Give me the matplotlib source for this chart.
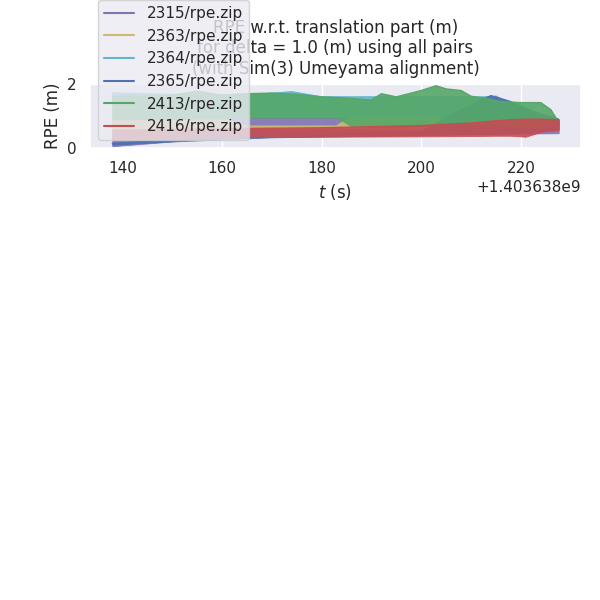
import matplotlib
matplotlib.use("Agg")
import matplotlib.pyplot as plt
import seaborn as sns
import numpy as np

sns.set_theme(style="darkgrid")
plt.rcParams['font.family'] = ['DejaVu Sans']

T0 = 1403638000.0

names = ["2315/rpe.zip", "2363/rpe.zip", "2364/rpe.zip", "2365/rpe.zip", "2413/rpe.zip", "2416/rpe.zip"]
colors = ["#8172B2", "#CCB974", "#64B5CD", "#4C72B0", "#55A868", "#C44E52"]

# envelopes (relative time in s, lower / upper RPE in m)
t_2315 = [138, 150, 165, 183, 200, 215, 222, 227.6]
lo_2315 = [0.05, 0.2, 0.4, 0.42, 0.42, 0.44, 0.45, 0.46]
hi_2315 = [0.9, 0.92, 0.94, 0.94, 1.2, 1.62, 1.0, 0.58]

t_2363 = [138, 150, 165, 183, 190, 215, 227.6]
lo_2363 = [0.55, 0.6, 0.62, 0.62, 0.6, 0.6, 0.62]
hi_2363 = [1.5, 1.4, 0.68, 0.68, 1.4, 1.6, 0.8]

t_2364 = [138, 150, 165, 174, 180, 200, 215, 227.6]
lo_2364 = [1.0, 1.0, 1.0, 1.0, 1.0, 1.0, 0.9, 0.7]
hi_2364 = [1.72, 1.68, 1.65, 1.76, 1.6, 1.6, 1.6, 0.85]

t_2365 = [138, 150, 170, 200, 208, 214, 218, 222, 227.6]
lo_2365 = [0.1, 0.2, 0.33, 0.4, 0.42, 0.44, 0.46, 0.5, 0.6]
hi_2365 = [0.14, 0.25, 0.38, 0.5, 1.2, 1.64, 1.45, 1.15, 0.9]

t_2413 = [138, 145, 150, 155, 160, 165, 170, 175, 180, 183, 186, 190, 192, 195,
          200, 203, 205, 208, 210, 213, 216, 220, 224, 226, 227.6]
hi_2413 = [1.62, 1.63, 1.65, 1.78, 1.65, 1.7, 1.72, 1.68, 1.6, 1.58, 1.55, 1.5, 1.7, 1.6,
           1.8, 1.95, 1.85, 1.8, 1.62, 1.55, 1.45, 1.42, 1.42, 1.2, 0.8]
lo_2413 = [0.9, 0.9, 0.9, 0.92, 0.92, 0.95, 0.95, 0.95, 0.95, 0.95, 0.68, 0.66, 0.66, 0.66,
           0.68, 0.7, 0.7, 0.7, 0.72, 0.75, 0.72, 0.65, 0.7, 0.75, 0.78]

t_2416 = [138, 160, 180, 200, 210, 215, 218, 221, 224, 227.6]
lo_2416 = [0.3, 0.33, 0.35, 0.36, 0.37, 0.38, 0.38, 0.35, 0.5, 0.56]
hi_2416 = [0.55, 0.6, 0.63, 0.7, 0.78, 0.85, 0.88, 0.9, 0.9, 0.88]

series = [
    (t_2315, lo_2315, hi_2315),
    (t_2363, lo_2363, hi_2363),
    (t_2364, lo_2364, hi_2364),
    (t_2365, lo_2365, hi_2365),
    (t_2413, lo_2413, hi_2413),
    (t_2416, lo_2416, hi_2416),
]

fig = plt.figure(figsize=(6, 6), dpi=100)
ax = fig.add_axes([90 / 600, 1 - 148 / 600, (581 - 90) / 600, 64 / 600])

for i, (name, col, (t, lo, hi)) in enumerate(zip(names, colors, series)):
    tt = np.asarray(t) + T0
    ax.plot(tt, hi, color=col, lw=1.0, label=name, zorder=2 + 2 * i)
    ax.fill_between(tt, lo, hi, color=col, alpha=0.9, lw=0.6, edgecolor=col,
                    zorder=3 + 2 * i)

ax.set_ylim(-0.005, 2.005)
ax.set_yticks([0, 2])
ax.set_xlabel("$t$ (s)")
ax.set_ylabel("RPE (m)")
ax.set_title("RPE w.r.t. translation part (m)\nfor delta = 1.0 (m) using all pairs\n(with Sim(3) Umeyama alignment)",
             pad=7)

leg = ax.legend(loc="lower left", fontsize=11)
leg.set_zorder(100)
for l in leg.get_lines():
    l.set_linewidth(1.5)

fig.savefig("out.png", dpi=100)
